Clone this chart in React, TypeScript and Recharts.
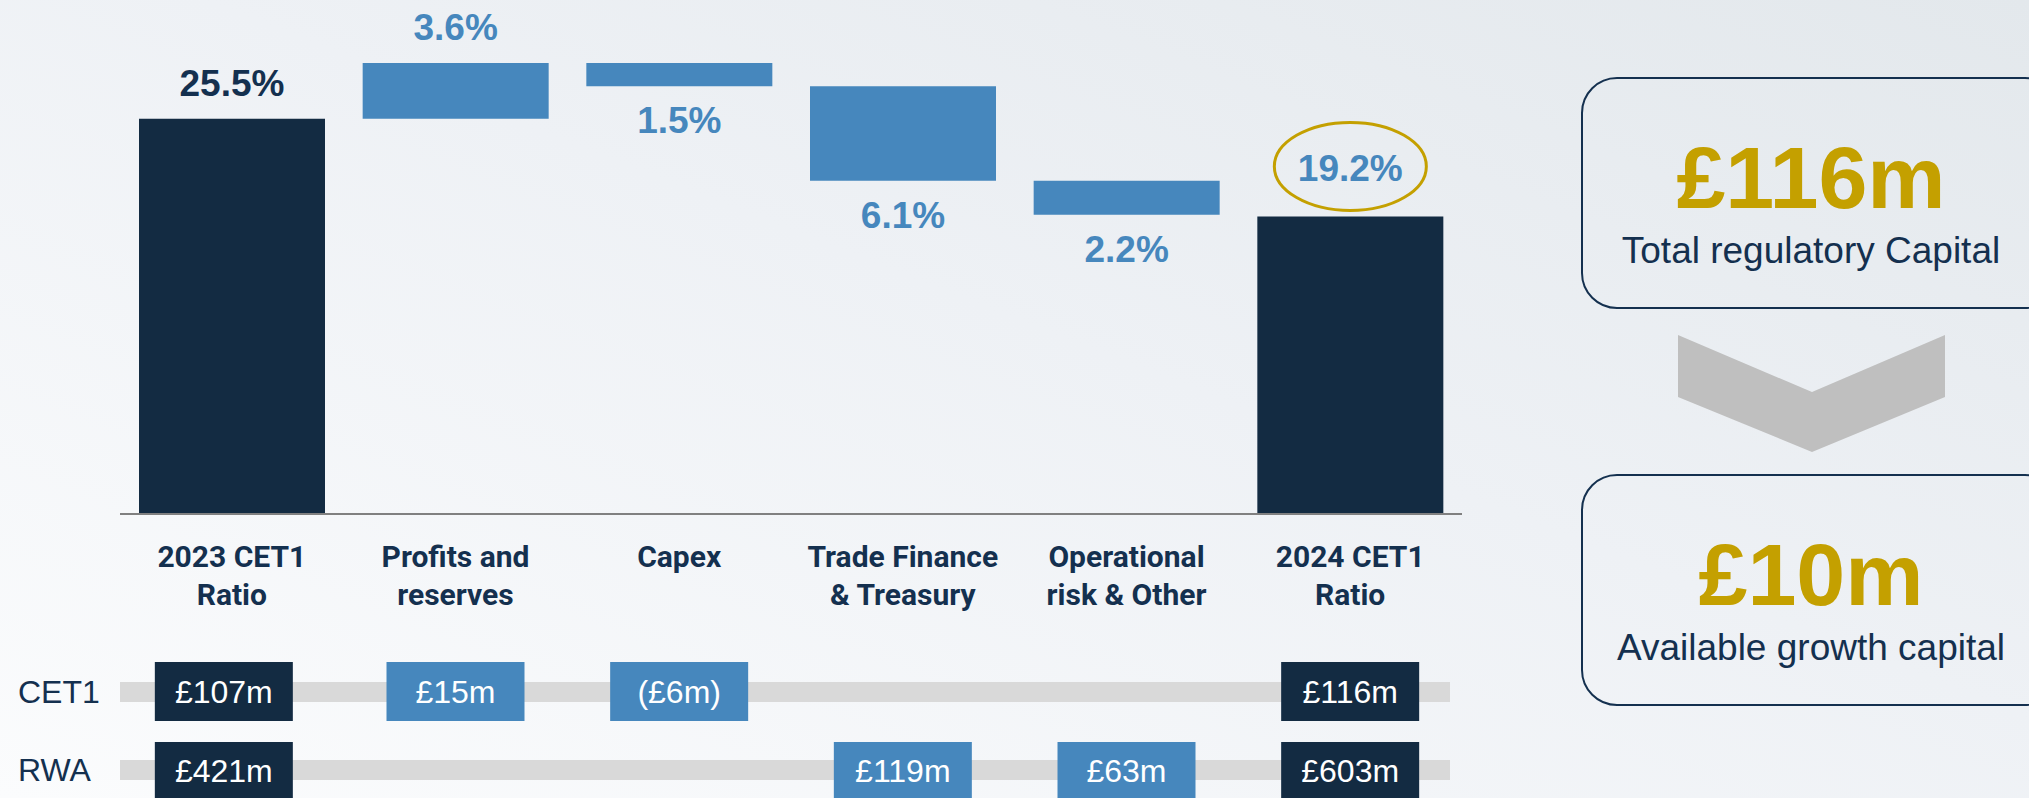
import React from "react";
import { Bar, BarChart, Cell, LabelList, XAxis, YAxis } from "recharts";

// CET1 ratio walk, 2023 -> 2024
const categories = [
  "2023 CET1 Ratio",
  "Profits and reserves",
  "Capex",
  "Trade Finance & Treasury",
  "Operational risk & Other",
  "2024 CET1 Ratio",
];
const categoryLines = [
  ["2023 CET1", "Ratio"],
  ["Profits and", "reserves"],
  ["Capex"],
  ["Trade Finance", "& Treasury"],
  ["Operational", "risk & Other"],
  ["2024 CET1", "Ratio"],
];
const startRatio = 25.5;
const movements = [3.6, -1.5, -6.1, -2.2];
const endRatio = 19.2;
const cet1Values = ["£107m", "£15m", "(£6m)", "", "", "£116m"];
const rwaValues = ["£421m", "", "", "£119m", "£63m", "£603m"];

const NAVY = "#132B42";
const BLUE = "#4687BD";
const TEXT_NAVY = "#14304F";
const GOLD = "#C4A000";

type Row = { name: string; base: number; delta: number; label: string; kind: string };

const buildData = (): Row[] => {
  const rows: Row[] = [
    { name: categories[0], base: 0, delta: startRatio, label: `${startRatio}%`, kind: "total" },
  ];
  let running = startRatio;
  movements.forEach((m, i) => {
    const next = running + m;
    rows.push({
      name: categories[i + 1],
      base: Math.min(running, next),
      delta: Math.abs(m),
      label: `${Math.abs(m).toFixed(1)}%`,
      kind: m >= 0 ? "up" : "down",
    });
    running = next;
  });
  rows.push({ name: categories[5], base: 0, delta: endRatio, label: `${endRatio}%`, kind: "end" });
  return rows;
};

const data = buildData();

const valueFont = { fontFamily: "'Liberation Sans', Arial, sans-serif", fontWeight: 700, fontSize: 37 };

const renderValueLabel = (props: any) => {
  const vb = props.viewBox ?? props;
  const x = props.x ?? vb.x;
  const y = props.y ?? vb.y;
  const width = props.width ?? vb.width;
  const height = props.height ?? vb.height;
  const d = data.find((r) => r.label === props.value);
  if (!d) return null;
  const cx = x + width / 2;
  if (d.kind === "down") {
    return (
      <text x={cx} y={y + height + 47} textAnchor="middle" fill={BLUE} style={valueFont}>
        {d.label}
      </text>
    );
  }
  if (d.kind === "end") {
    return (
      <g>
        <ellipse cx={cx} cy={y - 50} rx={76} ry={44} fill="none" stroke={GOLD} strokeWidth={3} />
        <text x={cx} y={y - 35} textAnchor="middle" fill={BLUE} style={valueFont}>
          {d.label}
        </text>
      </g>
    );
  }
  return (
    <text x={cx} y={y - 23} textAnchor="middle" fill={d.kind === "total" ? TEXT_NAVY : BLUE} style={valueFont}>
      {d.label}
    </text>
  );
};

const CategoryTick = (props: any) => {
  const { x, y, payload } = props;
  const i = props.index ?? payload.index;
  const lines = categoryLines[i] || [];
  const boxFill = data[i].kind === "total" || data[i].kind === "end" ? NAVY : BLUE;
  const boxText = { fontFamily: "'Liberation Sans', Arial, sans-serif", fontSize: 32 };
  // the first column's boxes sit a little left of the bar centre
  const bx = i === 0 ? x - 8 : x;
  return (
    <g>
      {lines.map((line, k) => (
        <text
          key={k}
          x={x}
          y={y + 53 + k * 38}
          textAnchor="middle"
          fill={TEXT_NAVY}
          style={{ fontFamily: "Roboto, sans-serif", fontWeight: 700, fontSize: 30 }}
        >
          {line}
        </text>
      ))}
      {cet1Values[i] && (
        <g>
          <rect x={bx - 69} y={y + 148} width={138} height={59} fill={boxFill} />
          <text x={bx} y={y + 189} textAnchor="middle" fill="#fff" style={boxText}>
            {cet1Values[i]}
          </text>
        </g>
      )}
      {rwaValues[i] && (
        <g>
          <rect x={bx - 69} y={y + 228} width={138} height={59} fill={boxFill} />
          <text x={bx} y={y + 268} textAnchor="middle" fill="#fff" style={boxText}>
            {rwaValues[i]}
          </text>
        </g>
      )}
    </g>
  );
};

const SummaryBox = ({ top, big, small }: { top: number; big: string; small: string }) => (
  <>
    <div
      style={{
        position: "absolute",
        left: 1581,
        top,
        width: 480,
        height: 232,
        border: `2.5px solid ${TEXT_NAVY}`,
        borderRadius: 36,
        boxSizing: "border-box",
      }}
    />
    <div
      style={{
        position: "absolute",
        left: 1581,
        width: 460,
        top: top + 57,
        textAlign: "center",
        fontSize: 88,
        lineHeight: "88px",
        fontWeight: 700,
        color: GOLD,
      }}
    >
      {big}
    </div>
    <div
      style={{
        position: "absolute",
        left: 1581,
        width: 460,
        top: top + 155,
        textAlign: "center",
        fontSize: 37,
        lineHeight: "37px",
        color: TEXT_NAVY,
        whiteSpace: "nowrap",
      }}
    >
      {small}
    </div>
  </>
);

const App = () => {
  return (
    <div
      style={{
        position: "absolute",
        left: 0,
        top: 0,
        width: 2029,
        height: 798,
        overflow: "hidden",
        fontFamily: "'Liberation Sans', Arial, sans-serif",
        background: "linear-gradient(to bottom left, #E3E8EC 0%, #EEF1F5 45%, #FBFCFD 100%)",
      }}
    >
      {/* CET1 / RWA strips */}
      <div style={{ position: "absolute", left: 120, top: 682, width: 1330, height: 20, background: "#D9D9D9" }} />
      <div style={{ position: "absolute", left: 120, top: 760, width: 1330, height: 20, background: "#D9D9D9" }} />
      <div style={{ position: "absolute", left: 18, top: 676, fontSize: 32, lineHeight: "32px", color: TEXT_NAVY }}>
        CET1
      </div>
      <div style={{ position: "absolute", left: 18, top: 754, fontSize: 32, lineHeight: "32px", color: TEXT_NAVY }}>
        RWA
      </div>

      <div style={{ position: "absolute", left: 0, top: 0 }}>
        <BarChart
          width={1480}
          height={798}
          data={data}
          margin={{ top: 49, right: 18, left: 120, bottom: 0 }}
        >
          <YAxis hide domain={[0, 30]} />
          <XAxis
            dataKey="name"
            height={284}
            interval={0}
            tickLine={false}
            tickSize={0}
            tickMargin={0}
            axisLine={{ stroke: "#808080", strokeWidth: 2 }}
            tick={<CategoryTick />}
          />
          <Bar dataKey="base" stackId="w" fill="transparent" isAnimationActive={false} barSize={186} />
          <Bar dataKey="delta" stackId="w" isAnimationActive={false} barSize={186}>
            {data.map((d, i) => (
              <Cell key={i} fill={d.kind === "total" || d.kind === "end" ? NAVY : BLUE} />
            ))}
            <LabelList dataKey="label" content={renderValueLabel} />
          </Bar>
        </BarChart>
      </div>

      {/* right-hand summary */}
      <SummaryBox top={77} big="£116m" small="Total regulatory Capital" />
      <svg style={{ position: "absolute", left: 0, top: 0 }} width={2029} height={798} pointerEvents="none">
        <polygon points="1678,335 1812,392 1945,335 1945,397 1812,452 1678,397" fill="#BFBFBF" />
      </svg>
      <SummaryBox top={474} big="£10m" small="Available growth capital" />
    </div>
  );
};

export default App;
